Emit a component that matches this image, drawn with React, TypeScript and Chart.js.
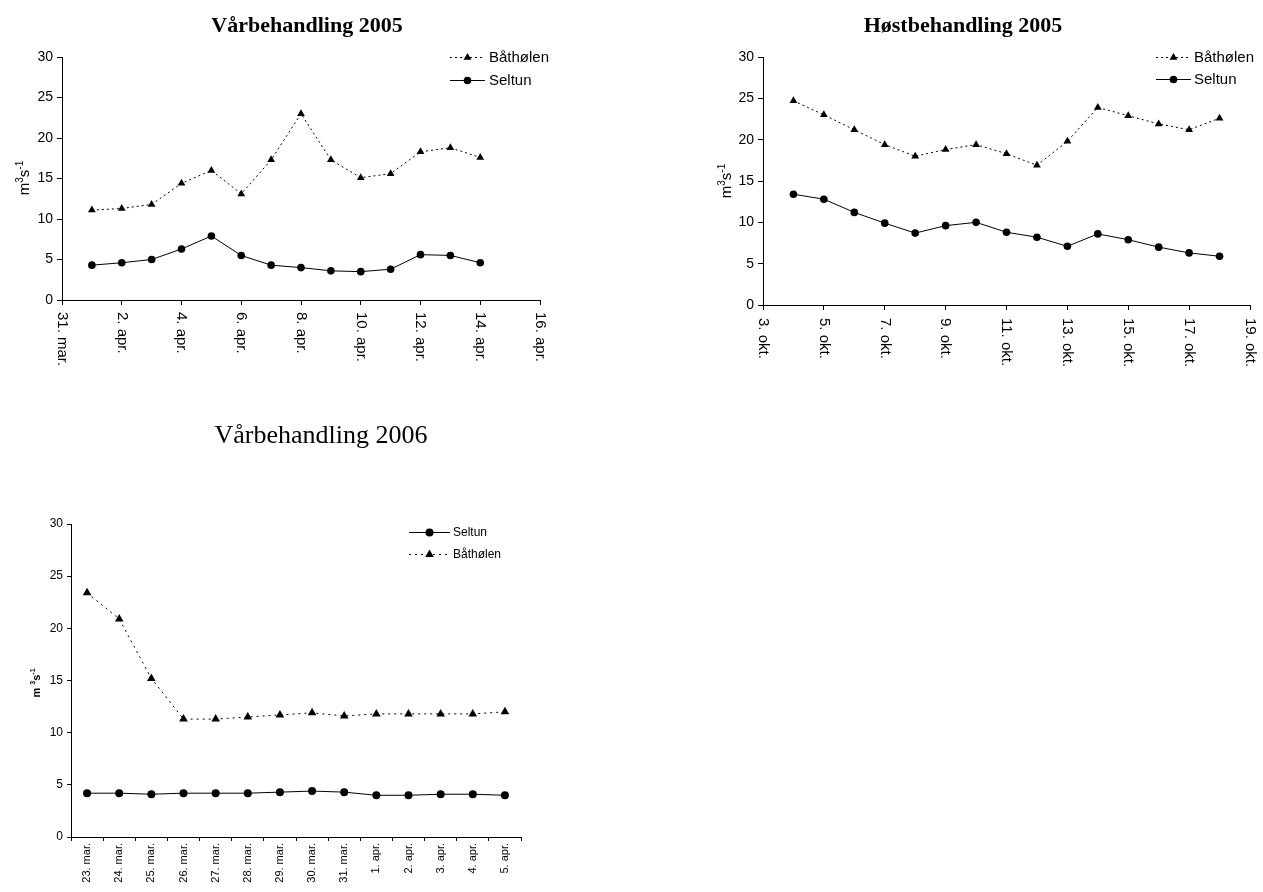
import React, { useEffect, useRef } from 'react';
import { Chart, registerables } from 'chart.js';

Chart.register(...registerables);
Chart.defaults.font.family = '"Liberation Sans", Arial, sans-serif';
Chart.defaults.color = '#000';

// ---------- Vårbehandling 2005 (days after 31. mar.) ----------
const spring05Days = [1, 2, 3, 4, 5, 6, 7, 8, 9, 10, 11, 12, 13, 14];
const spring05Bathølen = [11.1, 11.3, 11.8, 14.4, 16.0, 13.1, 17.3, 23.0, 17.3, 15.1, 15.6, 18.3, 18.8, 17.6];
const spring05Seltun = [4.3, 4.6, 5.0, 6.3, 7.9, 5.5, 4.3, 4.0, 3.6, 3.5, 3.8, 5.6, 5.5, 4.6];
const spring05TickLabels = ['31. mar.', '2. apr.', '4. apr.', '6. apr.', '8. apr.', '10. apr.', '12. apr.', '14. apr.', '16. apr.'];

// ---------- Høstbehandling 2005 (days after 3. okt.) ----------
const autumn05Days = [1, 2, 3, 4, 5, 6, 7, 8, 9, 10, 11, 12, 13, 14, 15];
const autumn05Bathølen = [24.7, 23.0, 21.2, 19.4, 18.0, 18.8, 19.4, 18.3, 16.9, 19.8, 23.9, 22.9, 21.9, 21.2, 22.6];
const autumn05Seltun = [13.4, 12.8, 11.2, 9.9, 8.7, 9.6, 10.0, 8.8, 8.2, 7.1, 8.6, 7.9, 7.0, 6.3, 5.9];
const autumn05TickLabels = ['3. okt.', '5. okt.', '7. okt.', '9. okt.', '11. okt.', '13. okt.', '15. okt.', '17. okt.', '19. okt.'];

// ---------- Vårbehandling 2006 ----------
const spring06Labels = ['23. mar.', '24. mar.', '25. mar.', '26. mar.', '27. mar.', '28. mar.', '29. mar.', '30. mar.', '31. mar.', '1. apr.', '2. apr.', '3. apr.', '4. apr.', '5. apr.'];
const spring06Seltun = [4.2, 4.2, 4.1, 4.2, 4.2, 4.2, 4.3, 4.4, 4.3, 4.0, 4.0, 4.1, 4.1, 4.0];
const spring06Bathølen = [23.4, 20.9, 15.2, 11.3, 11.3, 11.5, 11.7, 11.9, 11.6, 11.8, 11.8, 11.8, 11.8, 12.0];

const yTicksMin = 0;
const yTicksMax = 30;
const yTicksStep = 5;

type Decor = {
  title: string;
  titleFont: string;
  titleX: number;
  titleY: number;
  yTitle: { parts: [string, boolean][]; font: string; supFont: string; x: number; y: number; supRise: number };
  legend: { x1: number; x2: number; tx: number; ys: number[]; order: number[]; font: string };
  xLabels?: { font: string; gap: number };
};

function drawMarker(ctx: CanvasRenderingContext2D, style: string, r: number, x: number, y: number) {
  ctx.beginPath();
  if (style === 'triangle') {
    let rad = 0;
    ctx.moveTo(x + Math.sin(rad) * r, y - Math.cos(rad) * r);
    rad += (2 * Math.PI) / 3;
    ctx.lineTo(x + Math.sin(rad) * r, y - Math.cos(rad) * r);
    rad += (2 * Math.PI) / 3;
    ctx.lineTo(x + Math.sin(rad) * r, y - Math.cos(rad) * r);
    ctx.closePath();
  } else {
    ctx.arc(x, y, r, 0, Math.PI * 2);
  }
  ctx.fill();
}

function makeDecor(d: Decor) {
  return {
    id: 'decor',
    afterDraw(chart: any) {
      const ctx: CanvasRenderingContext2D = chart.ctx;
      ctx.save();
      ctx.fillStyle = '#000';
      // title
      ctx.font = d.titleFont;
      ctx.textAlign = 'center';
      ctx.textBaseline = 'alphabetic';
      ctx.fillText(d.title, d.titleX, d.titleY);

      // rotated x labels (top-to-bottom)
      if (d.xLabels) {
        const xs = chart.scales.x;
        ctx.font = d.xLabels.font;
        ctx.textAlign = 'left';
        ctx.textBaseline = 'middle';
        xs.ticks.forEach((t: any, i: number) => {
          const px = xs.getPixelForTick(i);
          ctx.save();
          ctx.translate(px, xs.top + d.xLabels!.gap);
          ctx.rotate(Math.PI / 2);
          ctx.fillText(String(t.label), 0, 0);
          ctx.restore();
        });
      }

      // y title with superscripts, rotated bottom-to-top
      const yt = d.yTitle;
      let total = 0;
      yt.parts.forEach(([s, sup]) => {
        ctx.font = sup ? yt.supFont : yt.font;
        total += ctx.measureText(s).width;
      });
      ctx.save();
      ctx.translate(yt.x, yt.y);
      ctx.rotate(-Math.PI / 2);
      ctx.textAlign = 'left';
      ctx.textBaseline = 'alphabetic';
      let cx = -total / 2;
      yt.parts.forEach(([s, sup]) => {
        ctx.font = sup ? yt.supFont : yt.font;
        ctx.fillText(s, cx, sup ? -yt.supRise : 0);
        cx += ctx.measureText(s).width;
      });
      ctx.restore();

      // legend
      const lg = d.legend;
      lg.order.forEach((di, row) => {
        const ds = chart.data.datasets[di];
        const y = lg.ys[row];
        ctx.save();
        ctx.strokeStyle = ds.borderColor;
        ctx.lineWidth = ds.borderWidth;
        ctx.setLineDash(ds.borderDash || []);
        ctx.beginPath();
        ctx.moveTo(lg.x1, y + 0.5);
        ctx.lineTo(lg.x2, y + 0.5);
        ctx.stroke();
        ctx.restore();
        ctx.fillStyle = ds.pointBackgroundColor;
        drawMarker(ctx, ds.pointStyle, ds.pointRadius, (lg.x1 + lg.x2) / 2, y + 0.5);
        ctx.fillStyle = '#000';
        ctx.font = lg.font;
        ctx.textAlign = 'left';
        ctx.textBaseline = 'middle';
        ctx.fillText(ds.label, lg.tx, y + 1);
      });
      ctx.restore();
    },
  };
}

function axisStyle(tickLength: number) {
  return {
    grid: { display: true, drawOnChartArea: false, drawTicks: true, tickLength, tickColor: '#000', tickWidth: 1 },
    border: { display: true, color: '#000', width: 1 },
  };
}

function ChartCanvas(props: { left: number; top: number; width: number; height: number; make: () => any }) {
  const ref = useRef<HTMLCanvasElement>(null);
  useEffect(() => {
    const chart = new Chart(ref.current as HTMLCanvasElement, props.make());
    return () => chart.destroy();
  }, []);
  return (
    <canvas
      ref={ref}
      width={props.width}
      height={props.height}
      style={{ position: 'absolute', left: props.left, top: props.top, width: props.width, height: props.height }}
    />
  );
}

function datedConfig(opts: {
  days: number[];
  bath: number[];
  selt: number[];
  tickLabels: string[];
  canvasW: number;
  canvasH: number;
  plotLeft: number;
  plotRight: number;
  plotTop: number;
  plotBottom: number;
  decor: Decor;
}) {
  const { days, bath, selt, tickLabels } = opts;
  return {
    type: 'line',
    data: {
      datasets: [
        {
          label: 'Båthølen',
          data: days.map((d, i) => ({ x: d, y: bath[i] })),
          borderColor: '#000',
          borderWidth: 1,
          borderDash: [2, 3],
          pointStyle: 'triangle',
          pointRadius: 4.5,
          pointBackgroundColor: '#000',
          pointBorderWidth: 0,
          tension: 0,
        },
        {
          label: 'Seltun',
          data: days.map((d, i) => ({ x: d, y: selt[i] })),
          borderColor: '#000',
          borderWidth: 1,
          pointStyle: 'circle',
          pointRadius: 3.8,
          pointBackgroundColor: '#000',
          pointBorderWidth: 0,
          tension: 0,
        },
      ],
    },
    options: {
      responsive: false,
      animation: false,
      devicePixelRatio: 1,
      layout: { padding: { left: 0, top: opts.plotTop, right: opts.canvasW - opts.plotRight, bottom: 0 } },
      plugins: { legend: { display: false }, title: { display: false }, tooltip: { enabled: false } },
      scales: {
        x: {
          type: 'linear',
          min: 0,
          max: (tickLabels.length - 1) * 2,
          ...axisStyle(5),
          ticks: {
            stepSize: 2,
            autoSkip: false,
            display: false,
            callback: (_v: any, i: number) => tickLabels[i],
          },
          afterFit: (s: any) => {
            s.height = opts.canvasH - opts.plotBottom;
          },
        },
        y: {
          min: yTicksMin,
          max: yTicksMax,
          ...axisStyle(5),
          ticks: { stepSize: yTicksStep, font: { size: 14 }, color: '#000', padding: 4 },
          afterFit: (s: any) => {
            s.width = opts.plotLeft;
          },
        },
      },
    },
    plugins: [makeDecor(opts.decor)],
  };
}

const sup14: [string, boolean][] = [
  ['m', false],
  ['3', true],
  ['s', false],
  ['-1', true],
];

function spring05Config() {
  return datedConfig({
    days: spring05Days,
    bath: spring05Bathølen,
    selt: spring05Seltun,
    tickLabels: spring05TickLabels,
    canvasW: 600,
    canvasH: 400,
    plotLeft: 62,
    plotRight: 540,
    plotTop: 57,
    plotBottom: 300,
    decor: {
      title: 'Vårbehandling 2005',
      titleFont: 'bold 22px "Liberation Serif", "Times New Roman", serif',
      titleX: 307,
      titleY: 32,
      yTitle: { parts: sup14, font: '15px "Liberation Sans"', supFont: '10px "Liberation Sans"', x: 29, y: 178, supRise: 6 },
      legend: { x1: 450, x2: 485, tx: 489, ys: [57, 80], order: [0, 1], font: '15px "Liberation Sans"' },
      xLabels: { font: '15px "Liberation Sans"', gap: 12 },
    },
  });
}

function autumn05Config() {
  return datedConfig({
    days: autumn05Days,
    bath: autumn05Bathølen,
    selt: autumn05Seltun,
    tickLabels: autumn05TickLabels,
    canvasW: 623,
    canvasH: 400,
    plotLeft: 123,
    plotRight: 610,
    plotTop: 57,
    plotBottom: 305,
    decor: {
      title: 'Høstbehandling 2005',
      titleFont: 'bold 22px "Liberation Serif", "Times New Roman", serif',
      titleX: 323,
      titleY: 32,
      yTitle: { parts: sup14, font: '15px "Liberation Sans"', supFont: '10px "Liberation Sans"', x: 91, y: 181, supRise: 6 },
      legend: { x1: 516, x2: 551, tx: 554, ys: [57, 79], order: [0, 1], font: '15px "Liberation Sans"' },
      xLabels: { font: '15px "Liberation Sans"', gap: 13 },
    },
  });
}

function spring06Config() {
  const canvasW = 600;
  const canvasH = 492;
  const plotLeft = 71;
  const plotRight = 521;
  const plotTop = 124;
  const plotBottom = 437;
  return {
    type: 'line',
    data: {
      labels: spring06Labels,
      datasets: [
        {
          label: 'Seltun',
          data: spring06Seltun,
          borderColor: '#000',
          borderWidth: 1,
          pointStyle: 'circle',
          pointRadius: 4,
          pointBackgroundColor: '#000',
          pointBorderWidth: 0,
          tension: 0,
        },
        {
          label: 'Båthølen',
          data: spring06Bathølen,
          borderColor: '#000',
          borderWidth: 1,
          borderDash: [2, 4],
          pointStyle: 'triangle',
          pointRadius: 5,
          pointBackgroundColor: '#000',
          pointBorderWidth: 0,
          tension: 0,
        },
      ],
    },
    options: {
      responsive: false,
      animation: false,
      devicePixelRatio: 1,
      layout: { padding: { left: 0, top: plotTop, right: canvasW - plotRight, bottom: 0 } },
      plugins: { legend: { display: false }, title: { display: false }, tooltip: { enabled: false } },
      scales: {
        x: {
          type: 'category',
          offset: true,
          ...axisStyle(4),
          grid: { display: true, drawOnChartArea: false, drawTicks: true, tickLength: 4, tickColor: '#000', offset: true },
          ticks: { autoSkip: false, minRotation: 90, maxRotation: 90, font: { size: 11 }, color: '#000', padding: 2 },
          afterFit: (s: any) => {
            s.height = canvasH - plotBottom;
          },
        },
        y: {
          min: yTicksMin,
          max: yTicksMax,
          ...axisStyle(4),
          ticks: { stepSize: yTicksStep, font: { size: 12 }, color: '#000', padding: 4 },
          afterFit: (s: any) => {
            s.width = plotLeft;
          },
        },
      },
    },
    plugins: [
      makeDecor({
        title: 'Vårbehandling 2006',
        titleFont: '26px "Liberation Serif", "Times New Roman", serif',
        titleX: 321,
        titleY: 43,
        yTitle: {
          parts: [
            ['m ', false],
            ['3', true],
            ['s', false],
            ['-1', true],
          ],
          font: 'bold 11px "Liberation Sans"',
          supFont: 'bold 7px "Liberation Sans"',
          x: 40,
          y: 283,
          supRise: 5,
        },
        legend: { x1: 409, x2: 450, tx: 453, ys: [132, 154], order: [0, 1], font: '12px "Liberation Sans"' },
      }),
    ],
  };
}

export default function App() {
  return (
    <div style={{ position: 'absolute', left: 0, top: 0, width: 1263, height: 892, overflow: 'hidden', background: '#fff' }}>
      <ChartCanvas left={0} top={0} width={600} height={400} make={spring05Config} />
      <ChartCanvas left={640} top={0} width={623} height={400} make={autumn05Config} />
      <ChartCanvas left={0} top={400} width={600} height={492} make={spring06Config} />
    </div>
  );
}
